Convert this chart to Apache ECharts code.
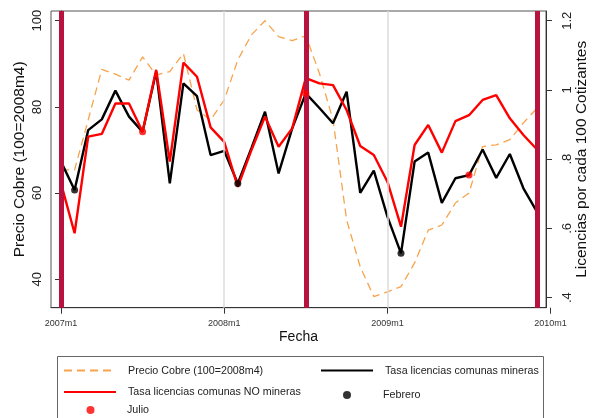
<!DOCTYPE html>
<html>
<head>
<meta charset="utf-8">
<script src="https://cdn.jsdelivr.net/npm/echarts@6/dist/echarts.min.js"></script>
<style>
  html, body { margin: 0; padding: 0; background: #fff; }
  #chart { width: 594px; height: 418px; }
</style>
</head>
<body>
<div id="chart"></div>
<script>
// Monthly series, 2007m1 .. 2009m12 (month index 0..35)
const precioCobre = [65.4, 65.4, 77.0, 88.7, 87.6, 86.2, 91.6, 87.4, 88.2, 92.4, 79.3, 77.0,
                     81.6, 90.9, 96.7, 100.0, 96.3, 95.4, 96.5, 87.8, 77.0, 53.8, 42.9, 36.0,
                     37.1, 38.3, 43.8, 51.4, 52.6, 57.7, 60.0, 70.8, 71.2, 72.4, 76.3, 79.7];
const tasaMineras = [0.793, 0.711, 0.884, 0.915, 0.998, 0.923, 0.879, 1.053, 0.730, 1.019, 0.982, 0.812,
                     0.824, 0.730, 0.832, 0.937, 0.759, 0.889, 0.990, 0.948, 0.904, 0.995, 0.703, 0.767,
                     0.634, 0.528, 0.793, 0.819, 0.674, 0.745, 0.754, 0.828, 0.746, 0.815, 0.716, 0.648];
const tasaNoMineras = [0.730, 0.586, 0.865, 0.873, 0.961, 0.961, 0.879, 1.058, 0.793, 1.079, 1.038, 0.892,
                       0.850, 0.720, 0.826, 0.923, 0.836, 0.889, 1.034, 1.019, 1.014, 0.942, 0.838, 0.812,
                       0.735, 0.605, 0.841, 0.899, 0.819, 0.910, 0.927, 0.971, 0.985, 0.918, 0.870, 0.828];

// February and July months (highlighted on the mining-communes series)
const febreroIdx = [1, 13, 25];
const julioIdx = [6, 18, 30];

// Event months marked with vertical bars; year gridlines
const eventMonths = [0, 18, 35];
const yearMonths = [12, 24];

// X tick labels and their month indices
const xTickLabels = ['2007m1', '2008m1', '2009m1', '2010m1'];
const xTickMonths = [0, 12, 24, 36];

// Y tick values
const leftTicks = [40, 60, 80, 100];
const rightTicks = [0.4, 0.6, 0.8, 1.0, 1.2];

const FONT = '"Liberation Sans", Arial, Helvetica, sans-serif';
const pairs = arr => arr.map((v, i) => [i, v]);
const pick = (arr, idx) => idx.map(i => [i, arr[i]]);

const chart = echarts.init(document.getElementById('chart'), null, { renderer: 'canvas' });

const textStyle = (padLeft) => ({ fontFamily: FONT, fontSize: 10.7, color: '#222', padding: [0, 0, 0, padLeft] });
const lineLegend = (name, left, top) => ({
  data: [name], left, top, orient: 'horizontal', padding: 0, itemGap: 0, selectedMode: false,
  itemWidth: 52, itemHeight: 14, itemStyle: { opacity: 0 },
  textStyle: textStyle(7)
});
const dotLegend = (name, left, top, padLeft) => ({
  data: [name], left, top, orient: 'horizontal', padding: 0, itemGap: 0, selectedMode: false,
  itemWidth: 8, itemHeight: 8,
  textStyle: textStyle(padLeft)
});

const option = {
  animation: false,
  backgroundColor: '#fff',
  grid: [
    { left: 51, top: 11, width: 495, height: 296.7, outerBoundsMode: 'none', containLabel: false,
      show: true, borderColor: '#555', borderWidth: 1, backgroundColor: '#fff' },
    { left: 51, top: 11, width: 499.6, height: 296.7, outerBoundsMode: 'none', containLabel: false }
  ],
  xAxis: [
    {
      gridIndex: 0, type: 'value', min: -0.735, max: 35.66,
      axisLine: { show: true, lineStyle: { color: '#333', width: 1 } },
      axisTick: { show: false }, axisLabel: { show: false }, splitLine: { show: false },
      name: 'Fecha', nameLocation: 'middle', nameGap: 22, nameMoveOverlap: false,
      nameTextStyle: { fontFamily: FONT, fontSize: 14, color: '#111' }
    },
    {
      gridIndex: 1, type: 'value', min: -0.735, max: 36,
      axisLine: { show: false },
      axisTick: { show: true, length: 6, lineStyle: { color: '#333' }, customValues: xTickMonths },
      axisLabel: {
        show: true, customValues: xTickMonths, margin: 11,
        formatter: v => xTickLabels[xTickMonths.indexOf(Math.round(v))] || '',
        fontFamily: FONT, fontSize: 9, color: '#333'
      },
      splitLine: { show: false }
    }
  ],
  yAxis: [
    {
      gridIndex: 0, type: 'value', position: 'left', min: 33.41, max: 102.25,
      axisLine: { show: true, lineStyle: { color: '#333' } },
      axisTick: { show: true, length: 6, lineStyle: { color: '#333' }, customValues: leftTicks },
      axisLabel: { customValues: leftTicks, rotate: 90, margin: 7, fontFamily: FONT, fontSize: 13, color: '#222' },
      splitLine: { show: false },
      name: 'Precio Cobre (100=2008m4)', nameLocation: 'middle', nameRotate: 90, nameGap: 23, nameMoveOverlap: false,
      nameTextStyle: { fontFamily: FONT, fontSize: 15.5, color: '#111' }
    },
    {
      gridIndex: 0, type: 'value', position: 'right', min: 0.3711, max: 1.228,
      axisLine: { show: true, lineStyle: { color: '#333' } },
      axisTick: { show: true, length: 6, lineStyle: { color: '#333' }, customValues: rightTicks },
      axisLabel: {
        customValues: rightTicks, rotate: 90, margin: 15,
        formatter: v => String(Math.round(v * 10) / 10).replace(/^0\./, '.'),
        fontFamily: FONT, fontSize: 13, color: '#222'
      },
      splitLine: { show: false },
      name: 'Licencias por cada 100 Cotizantes', nameLocation: 'middle', nameRotate: 90, nameGap: 28, nameMoveOverlap: false,
      nameTextStyle: { fontFamily: FONT, fontSize: 15.5, color: '#111' }
    },
    { gridIndex: 1, type: 'value', show: false, min: 0, max: 1 }
  ],
  legend: [
    lineLegend('Precio Cobre (100=2008m4)', 63, 365),
    lineLegend('Tasa licencias comunas mineras', 320, 365),
    lineLegend('Tasa licencias comunas NO mineras', 63, 386.5),
    dotLegend('Febrero', 343, 389.5, 27),
    dotLegend('Julio', 86.5, 404.5, 27.5)
  ],
  graphic: [
    {
      type: 'rect', silent: true, z: -1,
      shape: { x: 57.5, y: 356.5, width: 486, height: 80 },
      style: { fill: 'none', stroke: '#666', lineWidth: 1 }
    }
  ],
  series: [
    {
      name: 'Precio Cobre (100=2008m4)', type: 'line', xAxisIndex: 0, yAxisIndex: 0,
      data: pairs(precioCobre), symbol: 'none', showSymbol: false, z: 2,
      lineStyle: { color: '#F7A34C', width: 1.3, type: [8, 5] },
      itemStyle: { color: '#F7A34C' },
      emphasis: { disabled: true },
      markLine: {
        silent: true, symbol: ['none', 'none'], label: { show: false }, animation: false,
        emphasis: { disabled: true },
        data: yearMonths.map(m => ({ xAxis: m, lineStyle: { color: '#DCDCDC', width: 1.5, type: 'solid' } }))
          .concat(eventMonths.map(m => ({ xAxis: m, lineStyle: { color: '#B8123F', width: 5, type: 'solid' } })))
      }
    },
    {
      name: 'Tasa licencias comunas mineras', type: 'line', xAxisIndex: 0, yAxisIndex: 1,
      data: pairs(tasaMineras), symbol: 'none', showSymbol: false, z: 3,
      lineStyle: { color: '#000', width: 2.4 }, itemStyle: { color: '#000' },
      emphasis: { disabled: true }
    },
    {
      name: 'Tasa licencias comunas NO mineras', type: 'line', xAxisIndex: 0, yAxisIndex: 1,
      data: pairs(tasaNoMineras), symbol: 'none', showSymbol: false, z: 4,
      lineStyle: { color: '#FF0000', width: 2.4 }, itemStyle: { color: '#FF0000' },
      emphasis: { disabled: true }
    },
    {
      name: 'Febrero', type: 'scatter', xAxisIndex: 0, yAxisIndex: 1,
      data: pick(tasaMineras, febreroIdx), symbol: 'circle', symbolSize: 7, z: 5,
      itemStyle: { color: '#000' }, emphasis: { disabled: true }
    },
    {
      name: 'Julio', type: 'scatter', xAxisIndex: 0, yAxisIndex: 1,
      data: pick(tasaMineras, julioIdx), symbol: 'circle', symbolSize: 7, z: 5,
      itemStyle: { color: '#FF0000' }, emphasis: { disabled: true }
    }
  ]
};

chart.setOption(option);
</script>
</body>
</html>
